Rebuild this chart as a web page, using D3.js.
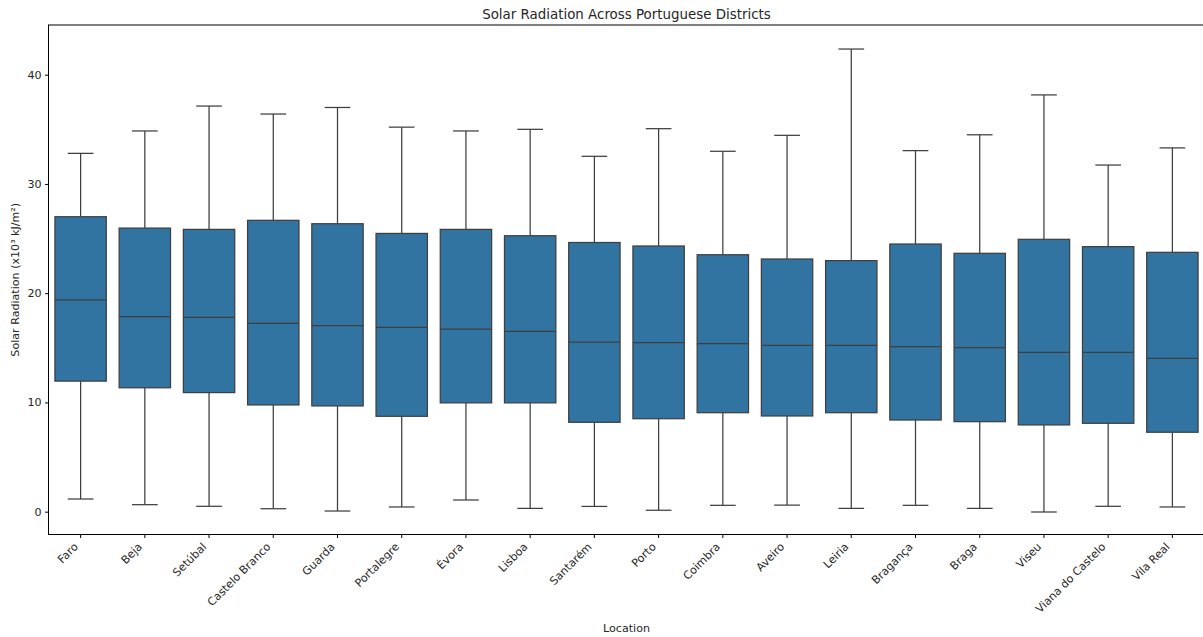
<!DOCTYPE html>
<html>
<head>
<meta charset="utf-8">
<script src="https://cdn.jsdelivr.net/npm/d3@7"></script>
<style>
  html, body { margin: 0; padding: 0; background: #ffffff; }
  svg { display: block; }
  text { font-family: "DejaVu Sans", sans-serif; fill: #262626; }
</style>
</head>
<body>
<div id="chart"></div>
<script>
// Solar radiation summary statistics per district (x10³ kJ/m²)
const districts = ["Faro", "Beja", "Setúbal", "Castelo Branco", "Guarda", "Portalegre", "Évora", "Lisboa",
  "Santarém", "Porto", "Coimbra", "Aveiro", "Leiria", "Bragança", "Braga", "Viseu", "Viana do Castelo", "Vila Real"];
const whiskerLow  = [1.16, 0.64, 0.49, 0.27, 0.06, 0.43, 1.07, 0.30, 0.48, 0.13, 0.58, 0.60, 0.30, 0.58, 0.30, -0.03, 0.49, 0.43];
const quartile1   = [11.95, 11.34, 10.90, 9.77, 9.68, 8.73, 9.96, 9.96, 8.18, 8.51, 9.06, 8.76, 9.06, 8.39, 8.24, 7.94, 8.09, 7.27];
const medians     = [19.38, 17.85, 17.79, 17.24, 17.02, 16.87, 16.72, 16.50, 15.52, 15.47, 15.38, 15.23, 15.23, 15.10, 15.01, 14.59, 14.59, 14.04];
const quartile3   = [27.00, 25.96, 25.84, 26.67, 26.36, 25.47, 25.84, 25.26, 24.64, 24.32, 23.52, 23.13, 22.98, 24.50, 23.65, 24.93, 24.26, 23.74];
const whiskerHigh = [32.80, 34.85, 37.13, 36.40, 37.00, 35.20, 34.85, 35.00, 32.53, 35.06, 32.99, 34.45, 42.35, 33.05, 34.50, 38.15, 31.73, 33.30];
const yTickValues = [0, 10, 20, 30, 40];

const width = 1203, height = 637;
const plotLeft = 48.5, plotRight = 1204.5, plotTop = 25, plotBottom = 534.5;
const labelSize = 11.1, titleSize = 13.4;

const stats = districts.map((name, i) => ({
  name, lo: whiskerLow[i], q1: quartile1[i], med: medians[i], q3: quartile3[i], hi: whiskerHigh[i]
}));

const svg = d3.select("#chart").append("svg")
  .attr("width", width).attr("height", height);

const x = d3.scaleBand().domain(districts).range([plotLeft, plotRight]).paddingInner(0).paddingOuter(0);
const y = d3.scaleLinear().domain([-2.09, 44.55]).range([plotBottom, plotTop]);

const step = x.step();
const boxW = step * 0.8;
const capW = step * 0.4;
const lineColor = "#3f3f3f";
const fillColor = "#3274a1";

const g = svg.append("g");

const groups = g.selectAll("g.box").data(stats).join("g").attr("class", "box")
  .attr("transform", d => `translate(${x(d.name) + step / 2},0)`);

// whiskers
groups.append("line")
  .attr("x1", 0).attr("x2", 0)
  .attr("y1", d => y(d.q3)).attr("y2", d => y(d.hi))
  .attr("stroke", lineColor).attr("stroke-width", 1.25);
groups.append("line")
  .attr("x1", 0).attr("x2", 0)
  .attr("y1", d => y(d.q1)).attr("y2", d => y(d.lo))
  .attr("stroke", lineColor).attr("stroke-width", 1.25);
// caps
groups.append("line")
  .attr("x1", -capW / 2).attr("x2", capW / 2)
  .attr("y1", d => y(d.hi)).attr("y2", d => y(d.hi))
  .attr("stroke", lineColor).attr("stroke-width", 1.25);
groups.append("line")
  .attr("x1", -capW / 2).attr("x2", capW / 2)
  .attr("y1", d => y(d.lo)).attr("y2", d => y(d.lo))
  .attr("stroke", lineColor).attr("stroke-width", 1.25);
// boxes
groups.append("rect")
  .attr("x", -boxW / 2).attr("width", boxW)
  .attr("y", d => y(d.q3)).attr("height", d => y(d.q1) - y(d.q3))
  .attr("fill", fillColor).attr("stroke", lineColor).attr("stroke-width", 1.25);
// medians
groups.append("line")
  .attr("x1", -boxW / 2).attr("x2", boxW / 2)
  .attr("y1", d => y(d.med)).attr("y2", d => y(d.med))
  .attr("stroke", lineColor).attr("stroke-width", 1.25);

// axes
const yAxis = svg.append("g").attr("transform", `translate(${plotLeft},0)`)
  .call(d3.axisLeft(y).tickValues(yTickValues).tickFormat(d3.format("d")).tickSize(3.5).tickPadding(3.5));
const xAxis = svg.append("g").attr("transform", `translate(0,${plotBottom})`)
  .call(d3.axisBottom(x).tickSize(3.5).tickFormat(""));
[yAxis, xAxis].forEach(a => {
  a.select(".domain").remove();
  a.selectAll(".tick line").attr("stroke", "#000").attr("stroke-width", 1);
});
yAxis.selectAll(".tick text").attr("font-size", labelSize).attr("fill", "#262626")
  .style("font-family", "DejaVu Sans, sans-serif");

// rotated district labels
svg.append("g").selectAll("text").data(districts).join("text")
  .attr("transform", d => `translate(${x(d) + step / 2 - 1.9},${plotBottom + 13}) rotate(-45)`)
  .attr("text-anchor", "end")
  .attr("font-size", labelSize)
  .text(d => d);

// spines
svg.append("rect")
  .attr("x", plotLeft).attr("y", plotTop).attr("width", plotRight - plotLeft).attr("height", plotBottom - plotTop)
  .attr("fill", "none").attr("stroke", "#000").attr("stroke-width", 1);

// titles
svg.append("text").attr("x", (plotLeft + plotRight) / 2).attr("y", 19)
  .attr("text-anchor", "middle").attr("font-size", titleSize)
  .text("Solar Radiation Across Portuguese Districts");
svg.append("text").attr("x", (plotLeft + plotRight) / 2).attr("y", 632)
  .attr("text-anchor", "middle").attr("font-size", labelSize)
  .text("Location");
svg.append("text")
  .attr("transform", `translate(18.8,${(plotTop + plotBottom) / 2}) rotate(-90)`)
  .attr("text-anchor", "middle").attr("font-size", labelSize)
  .text("Solar Radiation (x10³ kJ/m²)");
</script>
</body>
</html>
